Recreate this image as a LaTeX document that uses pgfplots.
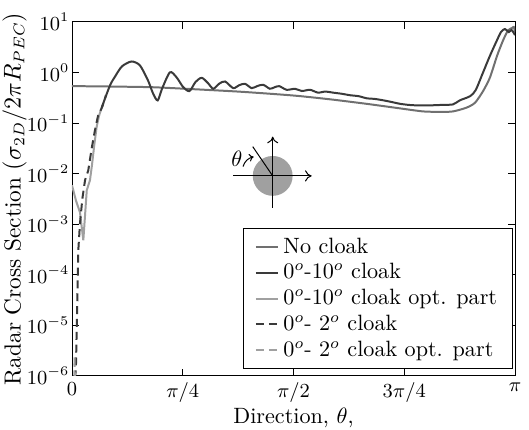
\documentclass[border=0pt]{standalone}
\usepackage{pgfplots}
\pgfplotsset{compat=1.18}
\usetikzlibrary{arrows.meta}
\definecolor{nocl}{HTML}{707070}
\definecolor{darkc}{HTML}{3A3A3A}
\definecolor{lightc}{HTML}{A0A0A0}
\begin{document}
\begin{tikzpicture}
\begin{axis}[
  name=ax,
  width=200pt, height=159.8pt, scale only axis,
  clip bounding box=upper bound,
  ymode=log, log basis y=10,
  xmin=0, xmax=180, ymin=1e-6, ymax=10,
  xtick={0,45,90,135,180},
  xticklabels={$0$,$\pi/4$,$\pi/2$,$3\pi/4$,$\pi$},
  ytick={1e-6,1e-5,1e-4,1e-3,1e-2,1e-1,1,10},
  major tick length=3pt, minor tick length=1.7pt,
  tick style={black, line width=0.4pt},
  tick label style={font=\small},
  yticklabel style={inner xsep=1pt},
  xticklabel style={inner ysep=3pt},
  xlabel={Direction, $\theta$,},
  ylabel={Radar Cross Section $(\sigma_{2D}/2\pi R_{PEC})$},
  xlabel style={yshift=4pt},
  ylabel style={yshift=-4.5pt, font=\fontsize{10.5}{12}\selectfont},
  legend cell align=left,
  legend style={at={(0.9955,0.02)}, anchor=south east, draw=black, line width=0.4pt,
    row sep=-0.8pt, inner xsep=5pt, inner ysep=2pt},
  legend image code/.code={\draw[#1] (0cm,0cm) -- (10pt,0cm);},
]
% No cloak
\addplot[color=nocl, line width=0.9pt, smooth, tension=0.4] coordinates {
(0,0.537) (11.4,0.531) (31.7,0.513) (45.1,0.479) (68.3,0.417) (89.8,0.351)
(104.8,0.295) (119.7,0.240) (133.3,0.195) (142.6,0.170) (150,0.166) (154.8,0.170)
(160.1,0.200) (163.7,0.251) (167,0.427) (169.8,0.794) (172.7,2.14) (175.1,4.27)
(177.1,6.76) (178.8,7.59) (179.5,7.94) (180,6.31)};
\addlegendentry{No cloak}
% 0-10 cloak
\addplot[color=darkc, line width=0.9pt, smooth, tension=0.45] coordinates {
(12.1,0.204) (15.4,0.550) (17.5,0.832) (20.3,1.32) (24.2,1.65) (27.6,1.38)
(30.9,0.692) (32.9,0.389) (34.8,0.280) (36.6,0.479) (39.8,1.01) (42.5,0.80)
(45.1,0.52) (47.7,0.428) (50.2,0.65) (52.7,0.785) (55.2,0.62) (57.4,0.477)
(59.8,0.60) (62.2,0.664) (65.5,0.490) (67.9,0.56) (70.3,0.598) (73.0,0.490)
(75.3,0.54) (77.7,0.571) (80.4,0.477) (82.3,0.51) (84.2,0.537) (87.2,0.455)
(90.6,0.476) (93.4,0.43) (96.7,0.455) (99.9,0.40) (103,0.42) (106,0.40)
(109.5,0.38) (113,0.355) (116.5,0.34) (119.7,0.309) (123,0.30) (126.4,0.282)
(130,0.26) (133.3,0.240) (137,0.228) (140,0.224) (145.5,0.224) (150.7,0.229)
(154.8,0.234) (157.6,0.282) (161.7,0.339) (164,0.447) (167,1.0) (169.8,2.14)
(172.5,4.17) (174.3,6.31) (175.9,7.24) (177.5,6.31) (178.6,6.92) (180,5.50)};
\addlegendentry{$0^o$-$10^o$ cloak}
% 0-10 cloak optimised part
\addplot[color=lightc, line width=0.9pt] coordinates {
(0,0.00589) (1.6,0.00295) (3.25,0.00170) (4.6,0.000479) (6.0,0.00468)
(7.3,0.00741) (8.1,0.0145) (9.0,0.035) (10.0,0.0832) (11.0,0.14) (12.1,0.204)};
\addlegendentry{$0^o$-$10^o$ cloak opt. part}
% 0-2 cloak
\addplot[color=darkc, line width=0.9pt, dash pattern=on 3.6pt off 2.2pt] coordinates {
(1.05,5e-7) (1.2,7.94e-7) (1.6,1.48e-6) (2.15,3.16e-5) (2.56,3.02e-4)
(3.25,1.05e-3) (4.2,3.16e-3) (5.3,7.41e-3) (6.6,0.0115) (8.0,0.0316)
(9.3,0.0708) (10.6,0.141) (12.2,0.204) (13.8,0.355)};
\addlegendentry{$0^o$- $2^o$ cloak}
% 0-2 cloak optimised part
\addplot[color=lightc, line width=0.9pt, dash pattern=on 3.6pt off 2.2pt] coordinates {
(0.9,5e-7) (1.05,2.5e-6) (1.2,5e-7)};
\addlegendentry{$0^o$- $2^o$ cloak opt. part}
\coordinate (C) at (rel axis cs:0.453,0.565);
\end{axis}
% inset sketch
\begin{scope}[shift={(C)}]
  \fill[lightc] (0,0) circle (9pt);
  \draw[line width=0.45pt, -{To[length=3pt,width=5pt]}] (-17.9pt,0) -- (17.6pt,0);
  \draw[line width=0.45pt, -{To[length=3pt,width=5pt]}] (0,-14.4pt) -- (0,17.7pt);
  \draw[line width=0.45pt] (0,0) -- (-9pt,13.2pt);
  \draw[line width=0.45pt, -{To[length=2pt,width=3.5pt]}] (-13.4pt,4.2pt) to[bend left=30] (-8.6pt,8.6pt);
  \node at (-16.2pt,7.6pt) {$\theta$};
\end{scope}
\pgfresetboundingbox
\path[use as bounding box] ([xshift=-32.5pt,yshift=-24.4pt]ax.south west) rectangle ([xshift=6.3pt,yshift=9.9pt]ax.north east);
\end{tikzpicture}
\end{document}
